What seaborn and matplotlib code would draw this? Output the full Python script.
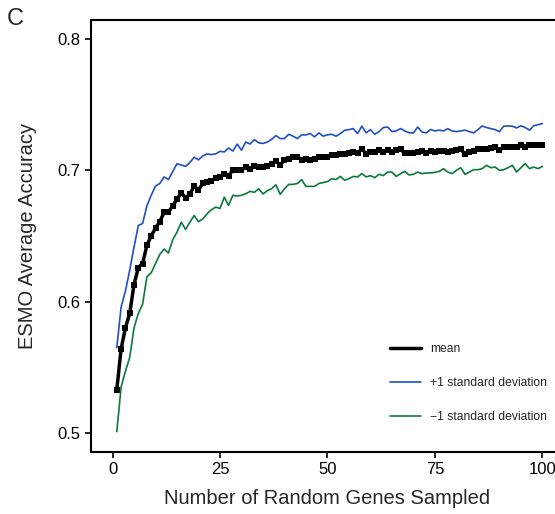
import numpy as np
import pandas as pd
import matplotlib
matplotlib.use("Agg")
import matplotlib.pyplot as plt
import seaborn as sns

# ================= DADOS =================
genes = list(range(1, 101))

acc_mean = [
    0.533, 0.564, 0.580, 0.591, 0.613, 0.626, 0.629, 0.643, 0.650, 0.656,
    0.661, 0.668, 0.668, 0.673, 0.678, 0.683, 0.679, 0.682, 0.688, 0.685,
    0.690, 0.691, 0.692, 0.694, 0.695, 0.697, 0.696, 0.700, 0.7005, 0.700,
    0.7025, 0.701, 0.703, 0.7025, 0.7025, 0.703, 0.705, 0.707, 0.704, 0.708,
    0.709, 0.710, 0.7105, 0.708, 0.709, 0.708, 0.709, 0.710, 0.710, 0.7105,
    0.712, 0.7115, 0.7125, 0.7125, 0.713, 0.714, 0.713, 0.7165, 0.7125, 0.714,
    0.714, 0.7155, 0.714, 0.7155, 0.714, 0.7155, 0.716, 0.713, 0.713, 0.713,
    0.714, 0.7145, 0.713, 0.7145, 0.714, 0.715, 0.7145, 0.714, 0.715, 0.7155,
    0.716, 0.7125, 0.714, 0.715, 0.716, 0.7165, 0.7165, 0.717, 0.7175, 0.7155,
    0.7175, 0.718, 0.7175, 0.718, 0.719, 0.7175, 0.719, 0.7195, 0.719, 0.7195,
]

acc_plus_sd = [
    0.565, 0.596, 0.608, 0.624, 0.6415, 0.658, 0.6595, 0.673, 0.681, 0.688,
    0.690, 0.695, 0.693, 0.699, 0.705, 0.704, 0.703, 0.706, 0.710, 0.708,
    0.711, 0.7125, 0.712, 0.7125, 0.7145, 0.714, 0.717, 0.7147, 0.720, 0.7153,
    0.7216, 0.720, 0.7234, 0.721, 0.7205, 0.7215, 0.7236, 0.7265, 0.7242, 0.7242,
    0.7275, 0.726, 0.7242, 0.727, 0.727, 0.728, 0.7255, 0.7285, 0.726, 0.727,
    0.7275, 0.726, 0.728, 0.7305, 0.731, 0.7318, 0.728, 0.7336, 0.7286, 0.731,
    0.7275, 0.7295, 0.7326, 0.733, 0.7295, 0.730, 0.7318, 0.730, 0.7286, 0.7285,
    0.733, 0.7292, 0.7285, 0.7311, 0.730, 0.7306, 0.730, 0.7318, 0.730, 0.7295,
    0.730, 0.7306, 0.7295, 0.7285, 0.731, 0.7338, 0.7326, 0.7318, 0.731, 0.7295,
    0.7336, 0.7338, 0.7336, 0.7323, 0.734, 0.7326, 0.7306, 0.734, 0.7348, 0.7356,
]

acc_minus_sd = [
    0.501, 0.535, 0.547, 0.5575, 0.580, 0.591, 0.598, 0.619, 0.622, 0.629,
    0.636, 0.640, 0.637, 0.647, 0.653, 0.6605, 0.655, 0.6605, 0.6656, 0.661,
    0.663, 0.667, 0.670, 0.672, 0.671, 0.6796, 0.6733, 0.681, 0.6805, 0.681,
    0.6822, 0.684, 0.6833, 0.686, 0.682, 0.6845, 0.686, 0.689, 0.6817, 0.686,
    0.6893, 0.6893, 0.690, 0.6929, 0.6878, 0.6878, 0.6878, 0.690, 0.6907, 0.6915,
    0.6936, 0.693, 0.6954, 0.6925, 0.6936, 0.6954, 0.695, 0.6975, 0.695, 0.696,
    0.6944, 0.697, 0.696, 0.6987, 0.6987, 0.6954, 0.6975, 0.6992, 0.6965, 0.697,
    0.6987, 0.6975, 0.698, 0.698, 0.6985, 0.6992, 0.7013, 0.6987, 0.6975, 0.700,
    0.702, 0.697, 0.6987, 0.7005, 0.7005, 0.7013, 0.7038, 0.702, 0.7025, 0.700,
    0.7005, 0.702, 0.7038, 0.6987, 0.702, 0.7051, 0.7013, 0.7025, 0.7013, 0.703,
]

x_ticks = [0, 25, 50, 75, 100]
y_ticks = [0.5, 0.6, 0.7, 0.8]

# ================= FIGURA =================
sns.set_style("ticks")
plt.rcParams['font.family'] = ['Liberation Sans', 'DejaVu Sans']

df = pd.DataFrame({'genes': genes, 'mean': acc_mean,
                   'plus': acc_plus_sd, 'minus': acc_minus_sd})

fig = plt.figure(figsize=(5.55, 5.14), dpi=100)
ax = fig.add_axes([0.164, 0.1206, 0.852, 0.8405])

sns.lineplot(data=df, x='genes', y='mean', ax=ax, color='black', linewidth=2.5,
             marker='s', markersize=4.6, markeredgewidth=0, label='mean')
sns.lineplot(data=df, x='genes', y='plus', ax=ax, color='#1f4fc4', linewidth=1.2,
             label='+1 standard deviation')
sns.lineplot(data=df, x='genes', y='minus', ax=ax, color='#0a7a3c', linewidth=1.2,
             label='\u22121 standard deviation')

ax.set_xlim(-5, 105)
ax.set_ylim(0.4855, 0.8145)
ax.set_xticks(x_ticks)
ax.set_yticks(y_ticks)
ax.set_yticklabels([f"{v:.1f}" for v in y_ticks])
ax.tick_params(axis='both', labelsize=12, length=4, width=1.2, direction='out', colors='black')
for lado in ['left', 'bottom', 'top']:
    ax.spines[lado].set_linewidth(1.5)
    ax.spines[lado].set_color('black')
ax.spines['right'].set_visible(False)

ax.set_xlabel("Number of Random Genes Sampled", fontsize=14.5, labelpad=8)
ax.set_ylabel("ESMO Average Accuracy", fontsize=14.5, labelpad=15)

leg = ax.legend(loc='upper left', bbox_to_anchor=(0.61, 0.278), frameon=False,
                fontsize=8.7, handlelength=2.5, labelspacing=1.85, handletextpad=0.8)
# na legenda a média aparece só como linha
leg.legend_handles[0].set_marker('')

fig.text(0.012, 0.985, "C", fontsize=17, va='top', ha='left')

fig.savefig("out.png", dpi=100)
